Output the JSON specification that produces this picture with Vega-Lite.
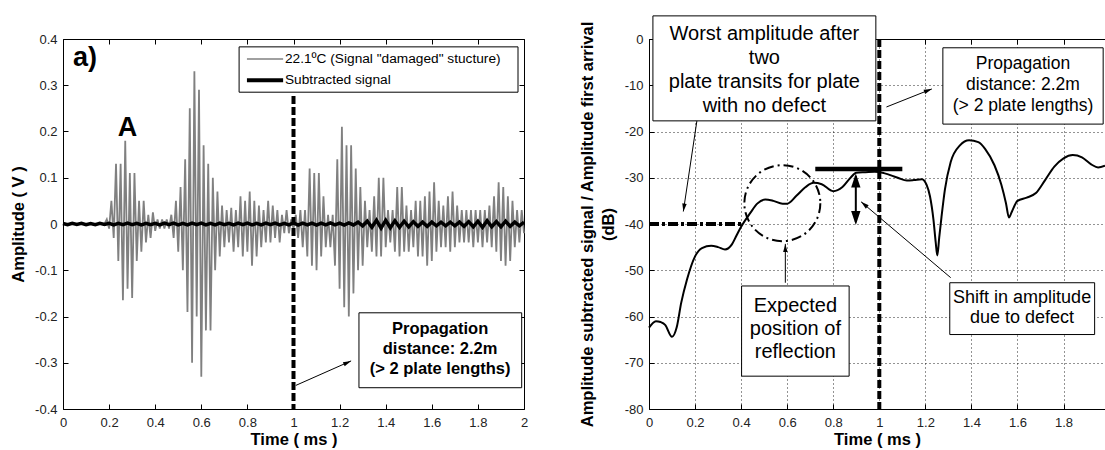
{
"$schema": "https://vega.github.io/schema/vega-lite/v6.json",
"padding": {"left": 10, "top": 15, "right": 0, "bottom": 2},
"background": "#ffffff",
"bounds": "flush",
"spacing": 125,
"datasets": {
"gray": [{"t":0,"v":0},{"t":0.18,"v":0},{"t":0.19,"v":0.01},{"t":0.2,"v":-0.01},{"t":0.21,"v":0.05},{"t":0.22,"v":-0.03},{"t":0.23,"v":0.13},{"t":0.24,"v":-0.08},{"t":0.25,"v":0.13},{"t":0.26,"v":-0.165},{"t":0.27,"v":0.18},{"t":0.28,"v":-0.14},{"t":0.29,"v":0.11},{"t":0.3,"v":-0.16},{"t":0.31,"v":0.11},{"t":0.32,"v":-0.08},{"t":0.33,"v":0.05},{"t":0.34,"v":-0.06},{"t":0.35,"v":0.05},{"t":0.36,"v":-0.04},{"t":0.37,"v":0.02},{"t":0.38,"v":-0.03},{"t":0.39,"v":0.025},{"t":0.4,"v":-0.015},{"t":0.41,"v":0.01},{"t":0.42,"v":-0.01},{"t":0.43,"v":0.01},{"t":0.44,"v":-0.01},{"t":0.45,"v":0.01},{"t":0.46,"v":-0.01},{"t":0.47,"v":0.02},{"t":0.48,"v":-0.03},{"t":0.49,"v":0.05},{"t":0.5,"v":-0.06},{"t":0.51,"v":0.08},{"t":0.52,"v":-0.1},{"t":0.53,"v":0.14},{"t":0.54,"v":-0.19},{"t":0.55,"v":0.25},{"t":0.56,"v":-0.3},{"t":0.57,"v":0.33},{"t":0.58,"v":-0.2},{"t":0.59,"v":0.29},{"t":0.6,"v":-0.33},{"t":0.61,"v":0.17},{"t":0.62,"v":-0.23},{"t":0.63,"v":0.13},{"t":0.64,"v":-0.23},{"t":0.65,"v":0.1},{"t":0.66,"v":-0.1},{"t":0.67,"v":0.07},{"t":0.68,"v":-0.07},{"t":0.69,"v":0.04},{"t":0.7,"v":-0.05},{"t":0.71,"v":0.03},{"t":0.72,"v":-0.04},{"t":0.73,"v":0.035},{"t":0.74,"v":-0.06},{"t":0.75,"v":0.03},{"t":0.76,"v":-0.05},{"t":0.77,"v":0.06},{"t":0.78,"v":-0.07},{"t":0.79,"v":0.05},{"t":0.8,"v":-0.06},{"t":0.81,"v":0.07},{"t":0.82,"v":-0.09},{"t":0.83,"v":0.05},{"t":0.84,"v":-0.07},{"t":0.85,"v":0.04},{"t":0.86,"v":-0.05},{"t":0.87,"v":0.03},{"t":0.88,"v":-0.04},{"t":0.89,"v":0.05},{"t":0.9,"v":-0.04},{"t":0.91,"v":0.04},{"t":0.92,"v":-0.03},{"t":0.93,"v":0.03},{"t":0.94,"v":-0.04},{"t":0.95,"v":0.02},{"t":0.96,"v":-0.02},{"t":0.97,"v":0.03},{"t":0.98,"v":-0.02},{"t":0.99,"v":0.01},{"t":1,"v":-0.01},{"t":1.01,"v":0.02},{"t":1.02,"v":-0.03},{"t":1.03,"v":0.03},{"t":1.04,"v":-0.05},{"t":1.05,"v":0.03},{"t":1.06,"v":-0.07},{"t":1.07,"v":0.12},{"t":1.08,"v":-0.09},{"t":1.09,"v":0.11},{"t":1.1,"v":-0.1},{"t":1.11,"v":0.11},{"t":1.12,"v":-0.07},{"t":1.13,"v":0.06},{"t":1.14,"v":-0.05},{"t":1.15,"v":0.02},{"t":1.16,"v":-0.05},{"t":1.17,"v":0.02},{"t":1.18,"v":-0.09},{"t":1.19,"v":0.14},{"t":1.2,"v":-0.14},{"t":1.21,"v":0.21},{"t":1.22,"v":-0.18},{"t":1.23,"v":0.17},{"t":1.24,"v":-0.2},{"t":1.25,"v":0.17},{"t":1.26,"v":-0.15},{"t":1.27,"v":0.12},{"t":1.28,"v":-0.1},{"t":1.29,"v":0.08},{"t":1.3,"v":-0.09},{"t":1.31,"v":0.05},{"t":1.32,"v":-0.05},{"t":1.33,"v":0.03},{"t":1.34,"v":-0.06},{"t":1.35,"v":0.06},{"t":1.36,"v":-0.07},{"t":1.37,"v":0.1},{"t":1.38,"v":-0.07},{"t":1.39,"v":0.1},{"t":1.4,"v":-0.05},{"t":1.41,"v":0.03},{"t":1.42,"v":-0.04},{"t":1.43,"v":0.03},{"t":1.44,"v":-0.06},{"t":1.45,"v":0.08},{"t":1.46,"v":-0.07},{"t":1.47,"v":0.08},{"t":1.48,"v":-0.06},{"t":1.49,"v":0.04},{"t":1.5,"v":-0.06},{"t":1.51,"v":0.03},{"t":1.52,"v":-0.05},{"t":1.53,"v":0.05},{"t":1.54,"v":-0.07},{"t":1.55,"v":0.05},{"t":1.56,"v":-0.07},{"t":1.57,"v":0.06},{"t":1.58,"v":-0.09},{"t":1.59,"v":0.07},{"t":1.6,"v":-0.08},{"t":1.61,"v":0.09},{"t":1.62,"v":-0.06},{"t":1.63,"v":0.05},{"t":1.64,"v":-0.05},{"t":1.65,"v":0.04},{"t":1.66,"v":-0.05},{"t":1.67,"v":0.06},{"t":1.68,"v":-0.06},{"t":1.69,"v":0.07},{"t":1.7,"v":-0.05},{"t":1.71,"v":0.04},{"t":1.72,"v":-0.04},{"t":1.73,"v":0.03},{"t":1.74,"v":-0.04},{"t":1.75,"v":0.03},{"t":1.76,"v":-0.04},{"t":1.77,"v":0.03},{"t":1.78,"v":-0.05},{"t":1.79,"v":0.03},{"t":1.8,"v":-0.04},{"t":1.81,"v":0.03},{"t":1.82,"v":-0.05},{"t":1.83,"v":0.03},{"t":1.84,"v":-0.04},{"t":1.85,"v":0.04},{"t":1.86,"v":-0.05},{"t":1.87,"v":0.06},{"t":1.88,"v":-0.06},{"t":1.89,"v":0.09},{"t":1.9,"v":-0.08},{"t":1.91,"v":0.08},{"t":1.92,"v":-0.09},{"t":1.93,"v":0.06},{"t":1.94,"v":-0.08},{"t":1.95,"v":0.05},{"t":1.96,"v":-0.05},{"t":1.97,"v":0.03},{"t":1.98,"v":-0.04},{"t":1.99,"v":0.03},{"t":2,"v":-0.02}],
"sub": [{"t":0,"v":0.001},{"t":0.02,"v":-0.0015},{"t":0.04,"v":0.0015},{"t":0.06,"v":-0.001},{"t":0.08,"v":0.0015},{"t":0.1,"v":-0.0015},{"t":0.12,"v":0.001},{"t":0.14,"v":-0.0015},{"t":0.16,"v":0.0015},{"t":0.18,"v":-0.001},{"t":0.2,"v":0.0015},{"t":0.22,"v":-0.002},{"t":0.24,"v":0.0015},{"t":0.26,"v":-0.0015},{"t":0.28,"v":0.002},{"t":0.3,"v":-0.0015},{"t":0.32,"v":0.0015},{"t":0.34,"v":-0.002},{"t":0.36,"v":0.0015},{"t":0.38,"v":-0.0015},{"t":0.4,"v":0.0015},{"t":0.42,"v":-0.002},{"t":0.44,"v":0.002},{"t":0.46,"v":-0.0015},{"t":0.48,"v":0.002},{"t":0.5,"v":-0.002},{"t":0.52,"v":0.0015},{"t":0.54,"v":-0.002},{"t":0.56,"v":0.002},{"t":0.58,"v":-0.0015},{"t":0.6,"v":0.002},{"t":0.62,"v":-0.002},{"t":0.64,"v":0.0015},{"t":0.66,"v":-0.002},{"t":0.68,"v":0.002},{"t":0.7,"v":-0.0015},{"t":0.72,"v":0.0015},{"t":0.74,"v":-0.002},{"t":0.76,"v":0.002},{"t":0.78,"v":-0.0015},{"t":0.8,"v":0.002},{"t":0.82,"v":-0.002},{"t":0.84,"v":0.0015},{"t":0.86,"v":-0.002},{"t":0.88,"v":0.002},{"t":0.9,"v":-0.0015},{"t":0.92,"v":0.002},{"t":0.94,"v":-0.002},{"t":0.96,"v":0.0015},{"t":0.98,"v":-0.002},{"t":1,"v":0.0025},{"t":1.02,"v":-0.0025},{"t":1.04,"v":0.002},{"t":1.06,"v":-0.002},{"t":1.08,"v":0.002},{"t":1.1,"v":-0.0025},{"t":1.12,"v":0.002},{"t":1.14,"v":-0.002},{"t":1.16,"v":0.0025},{"t":1.18,"v":-0.002},{"t":1.2,"v":0.002},{"t":1.22,"v":-0.0025},{"t":1.24,"v":0.0025},{"t":1.26,"v":-0.002},{"t":1.28,"v":0.004},{"t":1.3,"v":-0.004},{"t":1.32,"v":0.006},{"t":1.34,"v":-0.007},{"t":1.36,"v":0.008},{"t":1.38,"v":-0.009},{"t":1.4,"v":0.008},{"t":1.42,"v":-0.008},{"t":1.44,"v":0.007},{"t":1.46,"v":-0.007},{"t":1.48,"v":0.006},{"t":1.5,"v":-0.006},{"t":1.52,"v":0.005},{"t":1.54,"v":-0.005},{"t":1.56,"v":0.004},{"t":1.58,"v":-0.005},{"t":1.6,"v":0.004},{"t":1.62,"v":-0.004},{"t":1.64,"v":0.004},{"t":1.66,"v":-0.004},{"t":1.68,"v":0.004},{"t":1.7,"v":-0.004},{"t":1.72,"v":0.004},{"t":1.74,"v":-0.005},{"t":1.76,"v":0.005},{"t":1.78,"v":-0.006},{"t":1.8,"v":0.006},{"t":1.82,"v":-0.007},{"t":1.84,"v":0.007},{"t":1.86,"v":-0.006},{"t":1.88,"v":0.005},{"t":1.9,"v":-0.006},{"t":1.92,"v":0.006},{"t":1.94,"v":-0.005},{"t":1.96,"v":0.004},{"t":1.98,"v":-0.004},{"t":2,"v":0.004}],
"db": [{"t":0,"v":-62.4},{"t":0.03,"v":-61},{"t":0.05,"v":-61.2},{"t":0.07,"v":-61.8},{"t":0.1,"v":-64.4},{"t":0.12,"v":-62.4},{"t":0.14,"v":-57},{"t":0.165,"v":-52},{"t":0.2,"v":-47},{"t":0.23,"v":-45.2},{"t":0.27,"v":-44.7},{"t":0.3,"v":-45},{"t":0.33,"v":-45.5},{"t":0.36,"v":-44.4},{"t":0.38,"v":-42.5},{"t":0.4,"v":-40.6},{"t":0.44,"v":-37.6},{"t":0.47,"v":-35.6},{"t":0.505,"v":-34.7},{"t":0.54,"v":-35},{"t":0.58,"v":-35.6},{"t":0.6,"v":-35.6},{"t":0.64,"v":-33.9},{"t":0.68,"v":-32},{"t":0.715,"v":-31.1},{"t":0.75,"v":-31.4},{"t":0.8,"v":-32.9},{"t":0.84,"v":-32},{"t":0.875,"v":-30},{"t":0.9,"v":-28.9},{"t":0.94,"v":-28.8},{"t":0.98,"v":-28.7},{"t":1.02,"v":-29},{"t":1.08,"v":-30},{"t":1.12,"v":-30.6},{"t":1.15,"v":-30.5},{"t":1.185,"v":-30.3},{"t":1.205,"v":-31.5},{"t":1.22,"v":-34},{"t":1.235,"v":-39},{"t":1.245,"v":-44},{"t":1.252,"v":-46.8},{"t":1.26,"v":-43},{"t":1.27,"v":-38.5},{"t":1.285,"v":-32.5},{"t":1.31,"v":-26.6},{"t":1.35,"v":-23},{"t":1.39,"v":-21.9},{"t":1.43,"v":-22.3},{"t":1.46,"v":-23.8},{"t":1.5,"v":-27.3},{"t":1.53,"v":-31.5},{"t":1.55,"v":-35.5},{"t":1.563,"v":-38.6},{"t":1.575,"v":-37.4},{"t":1.6,"v":-35},{"t":1.64,"v":-34.3},{"t":1.68,"v":-33.3},{"t":1.72,"v":-30.5},{"t":1.76,"v":-27.6},{"t":1.8,"v":-25.8},{"t":1.84,"v":-25.1},{"t":1.88,"v":-25.6},{"t":1.92,"v":-27.1},{"t":1.95,"v":-27.8},{"t":1.98,"v":-27.4}]
},
"hconcat": [
{
"width": 461, "height": 370,
"layer": [
{"data": {"name": "gray"},
 "mark": {"type": "line", "strokeWidth": 1.8, "color": "#808080"},
 "encoding": {
  "x": {"field": "t", "type": "quantitative", "scale": {"domain": [0, 2], "nice": false, "zero": false},
        "axis": {"orient": "bottom", "title": "Time ( ms )", "values": [0,0.2,0.4,0.6,0.8,1,1.2,1.4,1.6,1.8,2], "labelExpr": "'' + datum.value"}},
  "y": {"field": "v", "type": "quantitative", "scale": {"domain": [-0.4, 0.4], "nice": false},
        "axis": {"orient": "left", "title": "Amplitude ( V )", "values": [-0.4,-0.3,-0.2,-0.1,0,0.1,0.2,0.3,0.4], "labelExpr": "'' + datum.value"}}
 }},
{"data": {"name": "sub"},
 "mark": {"type": "line", "strokeWidth": 3.5, "color": "#000000"},
 "encoding": {
  "x": {"field": "t", "type": "quantitative", "axis": null},
  "y": {"field": "v", "type": "quantitative", "axis": null}
 }},
{"data": {"values": [{"t": 1, "a": 0.277, "b": -0.4}]},
 "mark": {"type": "rule", "strokeWidth": 4, "strokeDash": [8, 3], "color": "#000000"},
 "encoding": {
  "x": {"field": "t", "type": "quantitative", "axis": {"orient": "top", "labels": false, "title": null, "values": [0,0.2,0.4,0.6,0.8,1,1.2,1.4,1.6,1.8,2]}},
  "y": {"field": "a", "type": "quantitative", "axis": {"orient": "right", "labels": false, "title": null, "values": [-0.4,-0.3,-0.2,-0.1,0,0.1,0.2,0.3,0.4]}},
  "y2": {"field": "b"}
 }},
{"data": {"values": [{"x": 0.764, "x2": 1.974, "y": 0.383, "y2": 0.285}, {"x": 1.284, "x2": 1.99, "y": -0.192, "y2": -0.354}]},
 "mark": {"type": "rect", "fill": "#ffffff", "stroke": "#000000", "strokeWidth": 1},
 "encoding": {
  "x": {"field": "x", "type": "quantitative", "axis": null}, "x2": {"field": "x2"},
  "y": {"field": "y", "type": "quantitative", "axis": null}, "y2": {"field": "y2"}
 }},
{"data": {"values": [{"x": 0.798, "x2": 0.955, "y": 0.357}]},
 "mark": {"type": "rule", "strokeWidth": 1.5, "color": "#808080"},
 "encoding": {
  "x": {"field": "x", "type": "quantitative", "axis": null}, "x2": {"field": "x2"},
  "y": {"field": "y", "type": "quantitative", "axis": null}
 }},
{"data": {"values": [{"x": 0.798, "x2": 0.955, "y": 0.311}]},
 "mark": {"type": "rule", "strokeWidth": 4, "color": "#000000"},
 "encoding": {
  "x": {"field": "x", "type": "quantitative", "axis": null}, "x2": {"field": "x2"},
  "y": {"field": "y", "type": "quantitative", "axis": null}
 }},
{"data": {"values": [{"x": 0.963, "y": 0.357, "label": "22.1ºC (Signal \"damaged\" stucture)"}, {"x": 0.963, "y": 0.311, "label": "Subtracted signal"}]},
 "mark": {"type": "text", "fontSize": 13.7, "align": "left", "baseline": "middle", "color": "#000000"},
 "encoding": {
  "x": {"field": "x", "type": "quantitative", "axis": null},
  "y": {"field": "y", "type": "quantitative", "axis": null},
  "text": {"field": "label"}
 }},
{"data": {"values": [{"x": 1.636, "y": -0.227, "label": "Propagation\ndistance: 2.2m\n(> 2 plate lengths)"}]},
 "mark": {"type": "text", "fontSize": 16.5, "fontWeight": "bold", "lineBreak": "\n", "lineHeight": 20, "align": "center", "baseline": "middle", "color": "#000000"},
 "encoding": {
  "x": {"field": "x", "type": "quantitative", "axis": null},
  "y": {"field": "y", "type": "quantitative", "axis": null},
  "text": {"field": "label"}
 }},
{"data": {"values": [{"x": 1.01, "y": -0.349, "x2": 1.25, "y2": -0.296}]},
 "mark": {"type": "rule", "strokeWidth": 1, "color": "#000000"},
 "encoding": {
  "x": {"field": "x", "type": "quantitative", "axis": null}, "x2": {"field": "x2"},
  "y": {"field": "y", "type": "quantitative", "axis": null}, "y2": {"field": "y2"}
 }},
{"data": {"values": [{"x": 1.25, "y": -0.296}]},
 "mark": {"type": "point", "shape": "M0,0L-0.5,1.8L0.5,1.8Z", "size": 80, "angle": 66, "filled": true, "color": "#000000", "opacity": 1, "strokeWidth": 0},
 "encoding": {
  "x": {"field": "x", "type": "quantitative", "axis": null},
  "y": {"field": "y", "type": "quantitative", "axis": null}
 }},
{"data": {"values": [{"x": 0.095, "y": 0.36, "label": "a)"}, {"x": 0.28, "y": 0.207, "label": "A"}]},
 "mark": {"type": "text", "fontSize": 27, "fontWeight": "bold", "align": "center", "baseline": "middle", "color": "#000000"},
 "encoding": {
  "x": {"field": "x", "type": "quantitative", "axis": null},
  "y": {"field": "y", "type": "quantitative", "axis": null},
  "text": {"field": "label"}
 }}
],
"resolve": {"axis": {"x": "independent", "y": "independent"}}
},
{
"width": 456, "height": 370,
"view": {"stroke": null},
"layer": [
{"data": {"name": "db"},
 "mark": {"type": "line", "strokeWidth": 2, "color": "#000000", "interpolate": "monotone"},
 "encoding": {
  "x": {"field": "t", "type": "quantitative", "scale": {"domain": [0, 1.98], "nice": false, "zero": false},
        "axis": {"orient": "bottom", "title": "Time ( ms )", "values": [0,0.2,0.4,0.6,0.8,1,1.2,1.4,1.6,1.8], "labelExpr": "'' + datum.value", "grid": true, "domain": true}},
  "y": {"field": "v", "type": "quantitative", "scale": {"domain": [-80, 0], "nice": false},
        "axis": {"orient": "left", "title": ["Amplitude subtracted signal / Amplitude first arrival", "(dB)"], "titleLineHeight": 21, "values": [-80,-70,-60,-50,-40,-30,-20,-10,0], "labelExpr": "'' + datum.value", "grid": true, "domain": true}}
 }},
{"data": {"values": [{"x": 0, "x2": 0.4, "y": -40}]},
 "mark": {"type": "rule", "strokeWidth": 4, "strokeDash": [10, 3, 3, 3], "color": "#000000"},
 "encoding": {
  "x": {"field": "x", "type": "quantitative", "axis": null}, "x2": {"field": "x2"},
  "y": {"field": "y", "type": "quantitative", "axis": null}
 }},
{"data": {"values": [{"x": 0.579, "y": -35.5}]},
 "mark": {"type": "point", "shape": "circle", "size": 5776, "filled": false, "stroke": "#000000", "strokeWidth": 2, "strokeDash": [10, 4, 2, 4], "opacity": 1},
 "encoding": {
  "x": {"field": "x", "type": "quantitative", "axis": null},
  "y": {"field": "y", "type": "quantitative", "axis": null}
 }},
{"data": {"values": [{"x": 0.722, "x2": 1.1, "y": -28.1}]},
 "mark": {"type": "rule", "strokeWidth": 4.5, "color": "#000000"},
 "encoding": {
  "x": {"field": "x", "type": "quantitative", "axis": null}, "x2": {"field": "x2"},
  "y": {"field": "y", "type": "quantitative", "axis": null}
 }},
{"data": {"values": [{"x": 0.898, "y": -29.6, "y2": -39.6}]},
 "mark": {"type": "rule", "strokeWidth": 2, "color": "#000000"},
 "encoding": {
  "x": {"field": "x", "type": "quantitative", "axis": null},
  "y": {"field": "y", "type": "quantitative", "axis": null}, "y2": {"field": "y2"}
 }},
{"data": {"values": [{"x": 0.898, "y": -29.1}]},
 "mark": {"type": "point", "shape": "M0,0L-0.6,1.8L0.6,1.8Z", "size": 243, "angle": 0, "filled": true, "color": "#000000", "opacity": 1, "strokeWidth": 0},
 "encoding": {
  "x": {"field": "x", "type": "quantitative", "axis": null},
  "y": {"field": "y", "type": "quantitative", "axis": null}
 }},
{"data": {"values": [{"x": 0.898, "y": -40.2}]},
 "mark": {"type": "point", "shape": "M0,0L-0.6,1.8L0.6,1.8Z", "size": 243, "angle": 180, "filled": true, "color": "#000000", "opacity": 1, "strokeWidth": 0},
 "encoding": {
  "x": {"field": "x", "type": "quantitative", "axis": null},
  "y": {"field": "y", "type": "quantitative", "axis": null}
 }},
{"data": {"values": [{"x": 1, "y": 0, "y2": -80}]},
 "mark": {"type": "rule", "strokeWidth": 4, "strokeDash": [8, 3], "color": "#000000"},
 "encoding": {
  "x": {"field": "x", "type": "quantitative", "axis": {"orient": "top", "labels": false, "title": null, "domain": true, "values": [0,0.2,0.4,0.6,0.8,1,1.2,1.4,1.6,1.8]}},
  "y": {"field": "y", "type": "quantitative", "axis": null}, "y2": {"field": "y2"}
 }},
{"data": {"values": [
   {"x": 0.017, "x2": 0.985, "y": 5, "y2": -17.7},
   {"x": 1.276, "x2": 1.972, "y": -1.9, "y2": -18.4},
   {"x": 0.402, "x2": 0.869, "y": -53.4, "y2": -72.9},
   {"x": 1.306, "x2": 1.935, "y": -52.7, "y2": -63.9}]},
 "mark": {"type": "rect", "fill": "#ffffff", "stroke": "#000000", "strokeWidth": 1},
 "encoding": {
  "x": {"field": "x", "type": "quantitative", "axis": null}, "x2": {"field": "x2"},
  "y": {"field": "y", "type": "quantitative", "axis": null}, "y2": {"field": "y2"}
 }},
{"data": {"values": [{"x": 0.501, "y": 1.0, "label": "Worst amplitude after\ntwo\nplate transits for plate\nwith no defect"}]},
 "mark": {"type": "text", "fontSize": 20, "lineBreak": "\n", "lineHeight": 24, "align": "center", "baseline": "middle", "color": "#000000"},
 "encoding": {
  "x": {"field": "x", "type": "quantitative", "axis": null},
  "y": {"field": "y", "type": "quantitative", "axis": null},
  "text": {"field": "label"}
 }},
{"data": {"values": [{"x": 1.624, "y": -5.4, "label": "Propagation\ndistance: 2.2m\n(> 2 plate lengths)"}]},
 "mark": {"type": "text", "fontSize": 17.5, "lineBreak": "\n", "lineHeight": 21, "align": "center", "baseline": "middle", "color": "#000000"},
 "encoding": {
  "x": {"field": "x", "type": "quantitative", "axis": null},
  "y": {"field": "y", "type": "quantitative", "axis": null},
  "text": {"field": "label"}
 }},
{"data": {"values": [{"x": 0.6355, "y": -57.7, "label": "Expected\nposition of\nreflection"}]},
 "mark": {"type": "text", "fontSize": 20, "lineBreak": "\n", "lineHeight": 23, "align": "center", "baseline": "middle", "color": "#000000"},
 "encoding": {
  "x": {"field": "x", "type": "quantitative", "axis": null},
  "y": {"field": "y", "type": "quantitative", "axis": null},
  "text": {"field": "label"}
 }},
{"data": {"values": [{"x": 1.62, "y": -56.1, "label": "Shift in amplitude\ndue to defect"}]},
 "mark": {"type": "text", "fontSize": 18, "lineBreak": "\n", "lineHeight": 19.5, "align": "center", "baseline": "middle", "color": "#000000"},
 "encoding": {
  "x": {"field": "x", "type": "quantitative", "axis": null},
  "y": {"field": "y", "type": "quantitative", "axis": null},
  "text": {"field": "label"}
 }},
{"data": {"values": [
   {"x": 0.208, "y": -17.7, "x2": 0.149, "y2": -37.3},
   {"x": 0.592, "y": -52.7, "x2": 0.592, "y2": -44.3},
   {"x": 1.031, "y": -14.7, "x2": 1.228, "y2": -10.8},
   {"x": 1.31, "y": -51.6, "x2": 0.921, "y2": -35.2}]},
 "mark": {"type": "rule", "strokeWidth": 1, "color": "#000000"},
 "encoding": {
  "x": {"field": "x", "type": "quantitative", "axis": null}, "x2": {"field": "x2"},
  "y": {"field": "y", "type": "quantitative", "axis": null}, "y2": {"field": "y2"}
 }},
{"data": {"values": [{"x": 0.149, "y": -37.3}]},
 "mark": {"type": "point", "shape": "M0,0L-0.5,1.8L0.5,1.8Z", "size": 80, "angle": -171.5, "filled": true, "color": "#000000", "opacity": 1, "strokeWidth": 0},
 "encoding": {"x": {"field": "x", "type": "quantitative", "axis": null}, "y": {"field": "y", "type": "quantitative", "axis": null}}},
{"data": {"values": [{"x": 0.592, "y": -44.3}]},
 "mark": {"type": "point", "shape": "M0,0L-0.5,1.8L0.5,1.8Z", "size": 80, "angle": 0, "filled": true, "color": "#000000", "opacity": 1, "strokeWidth": 0},
 "encoding": {"x": {"field": "x", "type": "quantitative", "axis": null}, "y": {"field": "y", "type": "quantitative", "axis": null}}},
{"data": {"values": [{"x": 1.228, "y": -10.8}]},
 "mark": {"type": "point", "shape": "M0,0L-0.5,1.8L0.5,1.8Z", "size": 80, "angle": 68.4, "filled": true, "color": "#000000", "opacity": 1, "strokeWidth": 0},
 "encoding": {"x": {"field": "x", "type": "quantitative", "axis": null}, "y": {"field": "y", "type": "quantitative", "axis": null}}},
{"data": {"values": [{"x": 0.921, "y": -35.2}]},
 "mark": {"type": "point", "shape": "M0,0L-0.5,1.8L0.5,1.8Z", "size": 80, "angle": -49.7, "filled": true, "color": "#000000", "opacity": 1, "strokeWidth": 0},
 "encoding": {"x": {"field": "x", "type": "quantitative", "axis": null}, "y": {"field": "y", "type": "quantitative", "axis": null}}}
],
"resolve": {"axis": {"x": "independent", "y": "independent"}}
}
],
"config": {
 "font": "Liberation Sans",
 "view": {"stroke": "#000000", "strokeWidth": 1},
 "axis": {"domain": false, "domainColor": "#000000", "domainWidth": 1, "tickSize": -5, "tickColor": "#000000", "tickWidth": 1,
          "labelFont": "Liberation Sans", "labelFontSize": 13, "labelColor": "#222222", "labelPadding": 11, "labelFlush": false, "labelOverlap": false,
          "titleFont": "Liberation Sans", "titleFontSize": 16.5, "titleFontWeight": "bold", "titleColor": "#000000",
          "grid": false, "gridColor": "#000000", "gridDash": [1, 3], "gridWidth": 1, "gridOpacity": 0.85},
 "axisX": {"labelPadding": 12, "titlePadding": 2},
 "axisY": {"titlePadding": 8}
}
}
